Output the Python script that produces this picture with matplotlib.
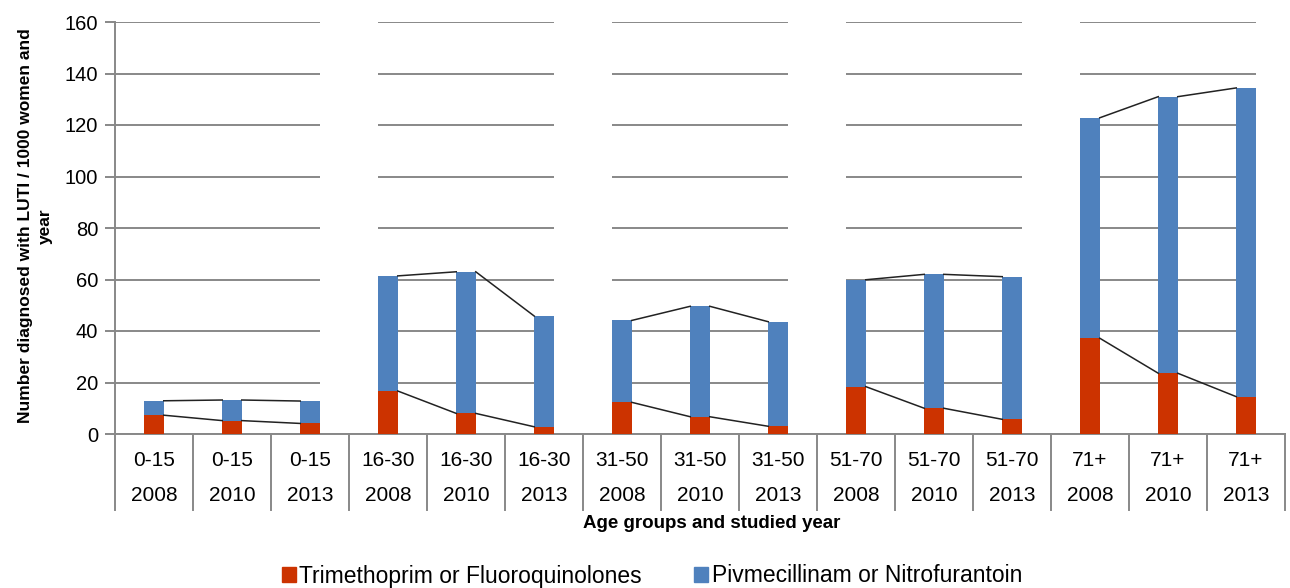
import numpy as np
import matplotlib.pyplot as plt
from matplotlib.patches import Patch
import matplotlib.transforms as mtransforms

# data
age_groups = ["0-15", "16-30", "31-50", "51-70", "71+"]
years = ["2008", "2010", "2013"]
# Trimethoprim or Fluoroquinolones (bottom segment)
tmp_fq = [7.3, 5.2, 4.1,
          16.7, 8.0, 2.8,
          12.3, 6.7, 3.0,
          18.4, 10.0, 5.7,
          37.2, 23.6, 14.5]
# total height of each stacked bar
totals = [12.9, 13.2, 12.8,
          61.4, 63.0, 45.8,
          44.1, 49.6, 43.6,
          59.9, 62.0, 61.1,
          122.8, 131.0, 134.4]
piv_nit = [t - r for t, r in zip(totals, tmp_fq)]

red = '#CC3300'
blue = '#4F81BD'
grey = '#888888'

plt.rcParams['font.family'] = ['Liberation Sans', 'DejaVu Sans']

fig = plt.figure(figsize=(12.9, 5.88), dpi=100)
ax = fig.add_axes([115 / 1290, (588 - 434) / 588, 1170 / 1290, 412 / 588])

n = len(tmp_fq)
x = np.arange(n) + 0.5
w = 0.25

ax.bar(x, tmp_fq, width=w, color=red, zorder=3)
ax.bar(x, piv_nit, width=w, bottom=tmp_fq, color=blue, zorder=3)

# series lines inside each age group
for g in range(len(age_groups)):
    for k in range(2):
        i = g * 3 + k
        ax.plot([x[i] + w / 2, x[i + 1] - w / 2], [tmp_fq[i], tmp_fq[i + 1]],
                color='#222222', lw=1.1, zorder=4)
        ax.plot([x[i] + w / 2, x[i + 1] - w / 2], [totals[i], totals[i + 1]],
                color='#222222', lw=1.1, zorder=4)

# white blocks between groups hide the gridlines (as in the original)
for g in range(len(age_groups)):
    last = g * 3 + 2
    right = x[last + 1] - w / 2 if last + 1 < n else n
    ax.axvspan(x[last] + w / 2, right, ymin=0.003, ymax=1.01, color='white',
               zorder=1, lw=0, clip_on=False)

ax.set_xlim(0, n)
ax.set_ylim(0, 160)
ax.set_yticks(np.arange(0, 161, 20))
ax.yaxis.grid(True, color=grey, lw=1.4)
ax.set_axisbelow(True)
for s in ['top', 'right']:
    ax.spines[s].set_visible(False)
for s in ['left', 'bottom']:
    ax.spines[s].set_color(grey)
    ax.spines[s].set_linewidth(1.4)
ax.tick_params(axis='y', length=7, width=1.4, color=grey, labelsize=14.5, pad=5)
ax.set_xticks([])

# two level category axis
trans = mtransforms.blended_transform_factory(ax.transData, ax.transAxes)
for k in range(n + 1):
    ax.plot([k, k], [0, -0.184], color=grey, lw=1.4, transform=trans, clip_on=False)
for i in range(n):
    ax.text(x[i], -0.065, age_groups[i // 3], transform=trans, ha='center', va='center', fontsize=15)
    ax.text(x[i], -0.15, years[i % 3], transform=trans, ha='center', va='center', fontsize=15)

fig.text(712 / 1290, 1 - 523 / 588, 'Age groups and studied year', ha='center', va='center',
         fontsize=13.5, fontweight='bold')
fig.text(35 / 1290, 1 - 226 / 588, 'Number diagnosed with LUTI / 1000 women and\nyear',
         rotation=90, ha='center', va='center', fontsize=12.5, fontweight='bold',
         multialignment='center', linespacing=1.4)

handles = [Patch(color=red, label='Trimethoprim or Fluoroquinolones'),
           Patch(color=blue, label='Pivmecillinam or Nitrofurantoin')]
fig.legend(handles=handles, loc='center', bbox_to_anchor=(652 / 1290, 1 - 576 / 588), ncol=2,
           frameon=False, handlelength=0.6, handleheight=0.6, handletextpad=0.15,
           columnspacing=2.3, prop={'size': 16.5})

fig.savefig('out.png', dpi=100)
